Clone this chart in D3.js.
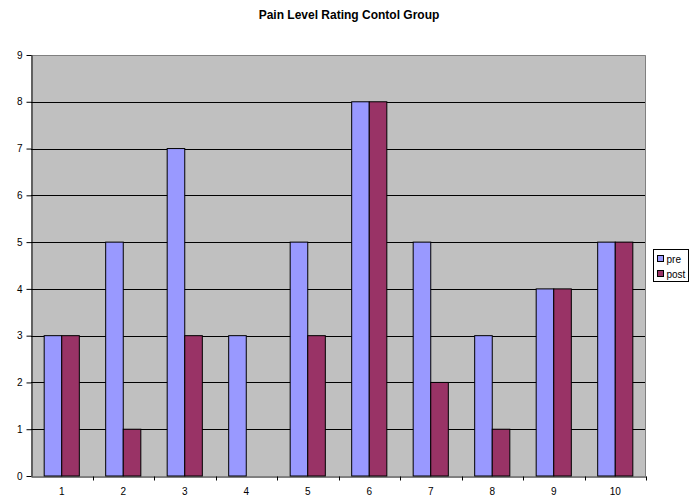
<!DOCTYPE html>
<html>
<head>
<meta charset="utf-8">
<script src="https://cdn.jsdelivr.net/npm/d3@7"></script>
<style>
  html, body { margin: 0; padding: 0; background: #fff; }
  svg { display: block; font-family: "Liberation Sans", Arial, sans-serif; }
</style>
</head>
<body>
<svg id="chart" width="697" height="498"></svg>
<script>
// Pain level ratings per participant, before and after
const participants = ["1", "2", "3", "4", "5", "6", "7", "8", "9", "10"];
const preValues  = [3, 5, 7, 3, 5, 8, 5, 3, 4, 5];
const postValues = [3, 1, 3, 0, 3, 8, 2, 1, 4, 5];
const seriesNames = ["pre", "post"];
const seriesColors = ["#9999FF", "#993366"];
const yTicks = [0, 1, 2, 3, 4, 5, 6, 7, 8, 9];

const svg = d3.select("#chart");
const plot = { left: 31, top: 55, right: 646, bottom: 476 };

const x = d3.scaleBand().domain(participants).range([plot.left, plot.right]);
const y = d3.scaleLinear().domain([0, 9]).range([plot.bottom, plot.top]);
const barW = x.bandwidth() / 3.5;
const inner = d3.scaleBand().domain(seriesNames).range([0, barW * 2]);

// plot background
svg.append("rect")
  .attr("x", plot.left).attr("y", plot.top)
  .attr("width", plot.right - plot.left).attr("height", plot.bottom - plot.top)
  .attr("fill", "#C0C0C0");

// horizontal gridlines
svg.append("g").selectAll("line")
  .data(yTicks.filter(d => d > 0 && d < 9))
  .join("line")
  .attr("x1", plot.left).attr("x2", plot.right)
  .attr("y1", d => Math.round(y(d)) + 0.5).attr("y2", d => Math.round(y(d)) + 0.5)
  .attr("stroke", "#000").attr("stroke-width", 1);

// top and right border of plot area
svg.append("path")
  .attr("d", `M${plot.left},${plot.top + 0.5}H${plot.right - 0.5}V${plot.bottom}`)
  .attr("fill", "none").attr("stroke", "#808080").attr("stroke-width", 1);

// bars
const rows = participants.map((p, i) => ({ p, values: [preValues[i], postValues[i]] }));
const groups = svg.append("g").selectAll("g")
  .data(rows).join("g")
  .attr("transform", d => `translate(${x(d.p) + (x.bandwidth() - barW * 2) / 2},0)`);
groups.selectAll("rect")
  .data(d => d.values.map((v, k) => ({ v, k })).filter(e => e.v > 0))
  .join("rect")
  .attr("x", e => inner(seriesNames[e.k]))
  .attr("y", e => y(e.v))
  .attr("width", inner.bandwidth())
  .attr("height", e => y(0) - y(e.v))
  .attr("fill", e => seriesColors[e.k])
  .attr("stroke", "#000").attr("stroke-width", 1);

// y axis
const yAxis = svg.append("g")
  .attr("transform", `translate(${plot.left + 0.5},0)`)
  .call(d3.axisLeft(y).tickValues(yTicks).tickSize(5).tickSizeOuter(0).tickPadding(4));
yAxis.select(".domain").attr("stroke", "#000");
yAxis.selectAll("text").attr("font-size", 10).attr("fill", "#000")
  .attr("font-family", "Liberation Sans, Arial, sans-serif");

// x axis
const xAxis = svg.append("g")
  .attr("transform", `translate(0,${plot.bottom + 0.5})`)
  .call(d3.axisBottom(x).tickSize(0).tickPadding(11));
xAxis.select(".domain").attr("stroke", "#000");
xAxis.selectAll("text").attr("font-size", 10).attr("fill", "#000")
  .attr("font-family", "Liberation Sans, Arial, sans-serif");
// category separator ticks
xAxis.append("g").selectAll("line")
  .data(participants.map(p => x(p) + x.bandwidth()))
  .join("line")
  .attr("x1", d => Math.round(d) + 0.5).attr("x2", d => Math.round(d) + 0.5)
  .attr("y1", 0).attr("y2", 4)
  .attr("stroke", "#000");

// title
svg.append("text")
  .attr("x", 349).attr("y", 19)
  .attr("text-anchor", "middle")
  .attr("font-size", 12).attr("font-weight", "bold")
  .text("Pain Level Rating Contol Group");

// legend
const lg = svg.append("g").attr("transform", "translate(653.5,249.5)");
lg.append("rect").attr("width", 35).attr("height", 32)
  .attr("fill", "#fff").attr("stroke", "#000");
seriesNames.forEach((name, i) => {
  lg.append("rect")
    .attr("x", 4).attr("y", 6 + i * 15)
    .attr("width", 6).attr("height", 6)
    .attr("fill", seriesColors[i]).attr("stroke", "#000");
  lg.append("text")
    .attr("x", 13).attr("y", 13 + i * 15)
    .attr("font-size", 10)
    .text(name);
});
</script>
</body>
</html>
